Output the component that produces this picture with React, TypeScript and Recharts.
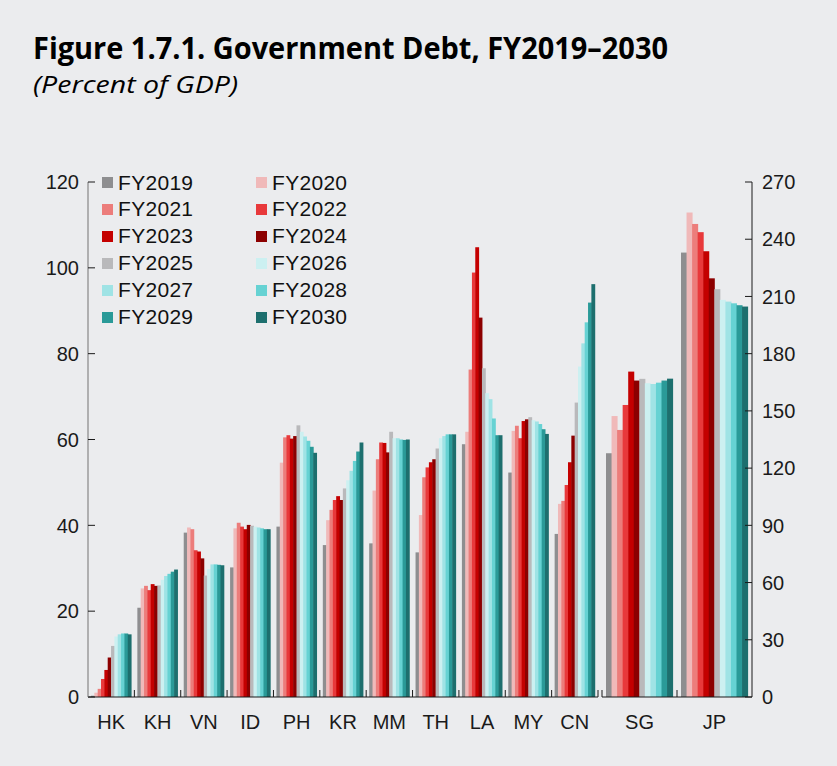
import React from 'react';
import { BarChart, Bar, XAxis, YAxis, Legend } from 'recharts';

const years = ['FY2019', 'FY2020', 'FY2021', 'FY2022', 'FY2023', 'FY2024', 'FY2025', 'FY2026', 'FY2027', 'FY2028', 'FY2029', 'FY2030'];
const colors = ['#8e8e90', '#f0b9b9', '#ec7d7b', '#e8393b', '#c40000', '#8c0000', '#b9b9bb', '#ccf0f1', '#9fe3e5', '#66d2d3', '#2a9a98', '#1d6f6e'];

// left axis economies, then SG and JP on the right axis
const leftCountries = ['HK', 'KH', 'VN', 'ID', 'PH', 'KR', 'MM', 'TH', 'LA', 'MY', 'CN'];
const rightCountries = ['SG', 'JP'];

const HK = [0.3, 1.0, 1.9, 4.2, 6.3, 9.2, 11.9, 14.1, 14.6, 14.8, 14.8, 14.6];
const KH = [20.8, 25.3, 25.9, 24.9, 26.3, 25.9, 26.0, 27.3, 28.2, 28.7, 29.2, 29.7];
const VN = [38.3, 39.5, 39.1, 34.2, 33.9, 32.3, 28.3, 29.8, 30.9, 30.9, 30.8, 30.7];
const ID = [30.2, 39.3, 40.6, 39.7, 39.1, 40.1, 39.9, 39.7, 39.5, 39.3, 39.1, 39.1];
const PH = [39.7, 54.6, 60.5, 61.0, 60.2, 60.8, 63.3, 61.8, 60.7, 59.7, 58.3, 56.9];
const KR = [35.4, 41.2, 43.6, 45.9, 46.8, 45.9, 48.6, 50.5, 52.7, 55.0, 57.2, 59.3];
const MM = [35.8, 48.1, 55.4, 59.3, 59.2, 57.0, 61.8, 60.3, 60.3, 60.0, 59.9, 60.0];
const TH = [33.7, 42.4, 51.2, 53.5, 54.7, 55.4, 57.9, 60.3, 60.8, 61.2, 61.2, 61.2];
const LA = [58.9, 61.8, 76.3, 98.9, 104.8, 88.4, 76.6, 70.8, 69.4, 64.9, 61.0, 61.0];
const MY = [52.3, 62.0, 63.2, 60.3, 64.3, 64.7, 65.2, 64.5, 64.2, 63.6, 62.4, 61.3];
const CN = [38.0, 45.0, 45.7, 49.4, 54.7, 60.9, 68.6, 77.0, 82.4, 87.3, 91.9, 96.2];
const SG = [127.8, 147.3, 140.0, 153.1, 170.6, 165.9, 166.8, 164.5, 164.1, 164.8, 165.9, 166.9];
const JP = [233.0, 254.0, 248.0, 243.7, 233.7, 219.5, 213.8, 208.2, 207.3, 206.4, 205.4, 204.7];

const leftValues = [HK, KH, VN, ID, PH, KR, MM, TH, LA, MY, CN];
const rightValues = [SG, JP];

const leftTicks = [0, 20, 40, 60, 80, 100, 120];
const rightTicks = [0, 30, 60, 90, 120, 150, 180, 210, 240, 270];

const toRows = (names: string[], values: number[][]) =>
  names.map((name, i) => {
    const row: Record<string, string | number> = { name };
    years.forEach((y, j) => (row[y] = values[i][j]));
    return row;
  });

const leftData = toRows(leftCountries, leftValues);
const rightData = toRows(rightCountries, rightValues);

const FONT = '"Liberation Sans", Arial, sans-serif';
const BG = '#ebecee';
const PLOT_TOP = 182;
const PLOT_BOTTOM = 697;
const LEFT_BAND = 510 / leftCountries.length;
const RIGHT_BAND = 150 / rightCountries.length;

const barShape = (p: any) => (
  <rect x={p.x} y={p.y} width={p.width + 0.5} height={Math.max(p.height, 0)} fill={p.fill} />
);

const LeftTick = ({ x, y, payload }: any) => (
  <g>
    <line x1={x} x2={x + 7} y1={y} y2={y} stroke="#1a1a1a" strokeWidth={1} />
    <text x={x - 9} y={y} dy="0.36em" textAnchor="end" fontSize={20} fontFamily={FONT} fill="#1a1a1a">
      {payload.value}
    </text>
  </g>
);

const RightTick = ({ x, y, payload }: any) => (
  <g>
    <line x1={x - 7} x2={x} y1={y} y2={y} stroke="#1a1a1a" strokeWidth={1} />
    <text x={x + 10} y={y} dy="0.36em" textAnchor="start" fontSize={20} fontFamily={FONT} fill="#1a1a1a">
      {payload.value}
    </text>
  </g>
);

const makeXTick = (band: number, both: boolean) => ({ x, y, payload, index }: any) => (
  <g>
    <line x1={x + band / 2} x2={x + band / 2} y1={y} y2={y - 7} stroke="#1a1a1a" />
    {both && index === 0 && <line x1={x - band / 2} x2={x - band / 2} y1={y} y2={y - 7} stroke="#1a1a1a" />}
    <text x={x} y={y + 25} dy="0.36em" textAnchor="middle" fontSize={20} fontFamily={FONT} fill="#1a1a1a">
      {payload.value}
    </text>
  </g>
);

const LeftXTick = makeXTick(LEFT_BAND, false);
const RightXTick = ({ index, ...rest }: any) =>
  index === 0 ? makeXTick(RIGHT_BAND, true)({ index, ...rest }) : (
    <text x={rest.x} y={rest.y + 25} dy="0.36em" textAnchor="middle" fontSize={20} fontFamily={FONT} fill="#1a1a1a">
      {rest.payload.value}
    </text>
  );

const LegendGrid = () => (
  <div style={{ position: 'relative', width: 260, height: 165 }}>
    {years.map((y, i) => {
      const row = Math.floor(i / 2);
      const col = i % 2;
      return (
        <div
          key={y}
          style={{
            position: 'absolute',
            left: col * 154,
            top: row * 26.9,
            height: 27,
            display: 'flex',
            alignItems: 'center',
            fontFamily: FONT,
            fontSize: 21,
            letterSpacing: 0.3,
            color: '#111',
            whiteSpace: 'nowrap',
          }}
        >
          <span style={{ width: 11, height: 11, background: colors[i], marginRight: 5, display: 'inline-block' }} />
          {y}
        </div>
      );
    })}
  </div>
);

export default function App() {
  return (
    <div style={{ position: 'absolute', left: 0, top: 0, width: 837, height: 766, background: BG, overflow: 'hidden' }}>
      <svg width={837} height={110} style={{ position: 'absolute', left: 0, top: 0 }}>
        <text x={33} y={59} fontFamily='"Open Sans", sans-serif' fontWeight={700} fontSize={31} fill="#000" textLength={635} lengthAdjust="spacingAndGlyphs">
          Figure 1.7.1. Government Debt, FY2019–2030
        </text>
        <text x={33} y={93} fontFamily='"Open Sans", sans-serif' fontStyle="italic" fontSize={24} fill="#000" textLength={205} lengthAdjust="spacingAndGlyphs">
          (Percent of GDP)
        </text>
      </svg>

      <div style={{ position: 'absolute', left: 0, top: 0 }}>
        <BarChart
          width={600}
          height={766}
          data={leftData}
          margin={{ top: PLOT_TOP, right: 2, left: 0, bottom: 0 }}
          barGap={0}
          barSize={3.34}
        >
          <XAxis
            dataKey="name"
            height={766 - PLOT_BOTTOM}
            tickSize={0}
            tickMargin={0}
            tick={<LeftXTick />}
            axisLine={{ stroke: '#1a1a1a' }}
            interval={0}
          />
          <YAxis
            width={88}
            domain={[0, 120]}
            ticks={leftTicks}
            tickSize={0}
            tickMargin={0}
            tick={<LeftTick />}
            axisLine={{ stroke: '#9b9b9b', strokeWidth: 1.5 }}
          />
          <Legend
            layout="horizontal"
            verticalAlign="middle"
            align="center"
            content={() => <LegendGrid />}
            wrapperStyle={{ top: 169, left: 102, width: 280, height: 165 }}
          />
          {years.map((y, i) => (
            <Bar key={y} dataKey={y} fill={colors[i]} isAnimationActive={false} shape={barShape} />
          ))}
        </BarChart>
      </div>

      <div style={{ position: 'absolute', left: 598, top: 0 }}>
        <BarChart
          width={239}
          height={766}
          data={rightData}
          margin={{ top: PLOT_TOP, right: 0, left: 4, bottom: 0 }}
          barGap={0}
          barSize={5.55}
        >
          <XAxis
            dataKey="name"
            height={766 - PLOT_BOTTOM}
            tickSize={0}
            tickMargin={0}
            tick={<RightXTick />}
            axisLine={{ stroke: '#1a1a1a' }}
            interval={0}
          />
          <YAxis
            orientation="right"
            width={85}
            domain={[0, 270]}
            ticks={rightTicks}
            tickSize={0}
            tickMargin={0}
            tick={<RightTick />}
            axisLine={{ stroke: '#1a1a1a' }}
          />
          {years.map((y, i) => (
            <Bar key={y} dataKey={y} fill={colors[i]} isAnimationActive={false} shape={barShape} />
          ))}
        </BarChart>
      </div>
    </div>
  );
}
